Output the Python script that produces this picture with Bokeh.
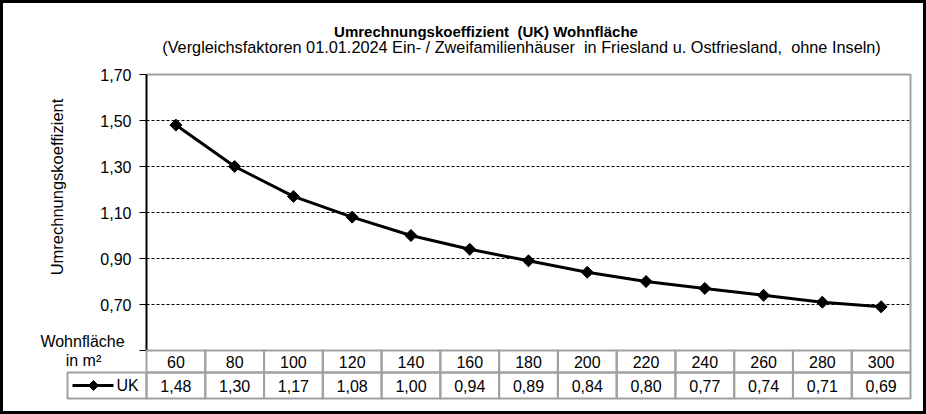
import numpy as np

from bokeh.core.properties import value
from bokeh.embed import file_html
from bokeh.layouts import column
from bokeh.models import Label, Range1d
from bokeh.plotting import figure
from bokeh.resources import INLINE

# data
areas = [60, 80, 100, 120, 140, 160, 180, 200, 220, 240, 260, 280, 300]
uk = [1.48, 1.30, 1.17, 1.08, 1.00, 0.94, 0.89, 0.84, 0.80, 0.77, 0.74, 0.71, 0.69]
y_ticks = [0.50, 0.70, 0.90, 1.10, 1.30, 1.50, 1.70]

# double spaces kept visible with a no-break space (svg collapses plain ones)
title = "Umrechnungskoeffizient\u00a0 (UK) Wohnfläche"
subtitle = ("(Vergleichsfaktoren 01.01.2024 Ein- / Zweifamilienhäuser\u00a0 "
            "in Friesland u. Ostfriesland,\u00a0 ohne Inseln)")
y_label = "Umrechnungskoeffizient"
x_label = ["Wohnfläche", "in m²"]
series = "UK"

FONT = "Liberation Sans"
GRAY = "#a0a0a0"
FS = "16px"

n = len(areas)
x = np.arange(n)
uk_text = [f"{v:.2f}".replace(".", ",") for v in uk]
tick_text = ["" if t < 0.6 else f"{t:.2f}".replace(".", ",") for t in y_ticks]

# page layout (pixels): canvas 3..923 x 3..411, plot area 146..910 x 74..350
W, H, B = 920, 408, 3
PL, PR, PT, PB = 146, 910, 74, 350
y0, y1 = y_ticks[0], y_ticks[-1]
ux = (PR - PL) / n            # px per category
uy = (PB - PT) / (y1 - y0)    # px per unit of UK
x_lo, x_hi = -0.5, n - 0.5


def px_x(px):
    return x_lo + (px - PL) / ux


def px_y(py):
    return y0 + (PB - py) / uy


p = figure(width=W, height=H,
           x_range=Range1d(px_x(B), px_x(B + W)),
           y_range=Range1d(px_y(B + H), px_y(B)),
           x_axis_type=None, y_axis_type=None,
           toolbar_location=None, output_backend="svg",
           min_border=0)
p.grid.visible = False
p.outline_line_color = None

# grid lines and plot-area border
p.segment(x0=x_lo, x1=x_hi, y0=y_ticks[1:-1], y1=y_ticks[1:-1],
          line_color="black", line_width=1, line_dash="3 2")
p.line([x_lo, x_hi, x_hi], [y1, y1, y0], line_color=GRAY, line_width=2)

# y axis
p.segment(x0=px_x(PL - 7), x1=x_lo, y0=y_ticks, y1=y_ticks,
          line_color="black", line_width=1)
p.line([x_lo, x_lo], [y0, y1], line_color="black", line_width=2)
p.text(px_x(PL - 15), y_ticks, text=tick_text, text_font=value(FONT),
       text_font_size=FS, text_align="right", text_baseline="middle")

# series
p.line(x, uk, line_color="black", line_width=3)
p.scatter(x, uk, marker="square", angle=np.pi / 4, size=8.5,
          fill_color="black", line_color="black")

# data table below the plot area
r_top, r_mid, r_bot = px_y(PB), px_y(PB + 22), px_y(PB + 48)
p.quad(left=x - 0.5, right=x + 0.5, bottom=r_mid, top=r_top,
       fill_color=None, line_color=GRAY, line_width=2)
p.quad(left=x - 0.5, right=x + 0.5, bottom=r_bot, top=r_mid,
       fill_color=None, line_color=GRAY, line_width=2)
p.quad(left=px_x(67), right=x_lo, bottom=r_bot, top=r_mid,
       fill_color=None, line_color=GRAY, line_width=2)

p.text(x, [(r_top + r_mid) / 2] * n, text=[str(a) for a in areas],
       text_font=value(FONT), text_font_size=FS,
       text_align="center", text_baseline="middle")
p.text(x, [(r_mid + r_bot) / 2] * n, text=uk_text,
       text_font=value(FONT), text_font_size=FS,
       text_align="center", text_baseline="middle")

# legend key inside the table
ky = (r_mid + r_bot) / 2
p.line([px_x(72), px_x(113)], [ky, ky], line_color="black", line_width=3)
p.scatter([px_x(93)], [ky], marker="square", angle=np.pi / 4, size=7,
          fill_color="black", line_color="black")
p.text([px_x(116)], [ky], text=[series], text_font=value(FONT),
       text_font_size=FS, text_align="left", text_baseline="middle")


# free texts, placed in canvas pixels (x from left, y from bottom)
def label(text, px, py, size=FS, **kw):
    p.add_layout(Label(x=px - B, y=B + H - py, x_units="screen", y_units="screen",
                       text=text, text_font=FONT, text_font_size=size,
                       text_color="black", **kw))


label(title, 485.5, 30.5, size="15px", text_font_style="bold", text_align="center",
      text_baseline="alphabetic")
label(subtitle, 521, 46, size="16.3px", text_align="center", text_baseline="alphabetic")
label(y_label, 56, 186.5, size="16.5px", angle=np.pi / 2, text_align="center",
      text_baseline="middle")
label(x_label[0], 82, 341, text_align="center", text_baseline="alphabetic")
label(x_label[1], 83, 360, text_align="center", text_baseline="alphabetic")

layout = column(p, styles={"border": f"{B}px solid black"})

open("out.html", "w").write(file_html(layout, INLINE))
